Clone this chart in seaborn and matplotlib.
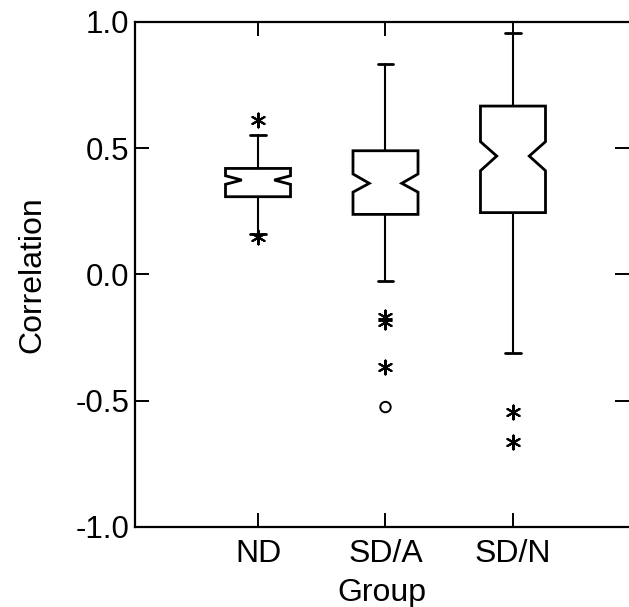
import numpy as np
import pandas as pd
import matplotlib
matplotlib.use('Agg')
import matplotlib.pyplot as plt
import seaborn as sns

# dados
grupos = ['ND', 'SD/A', 'SD/N']
medianas = [0.374, 0.361, 0.469]
q1 = [0.308, 0.238, 0.245]
q3 = [0.420, 0.490, 0.667]
bigode_inf = [0.16, -0.025, -0.31]
bigode_sup = [0.552, 0.832, 0.955]
notch_inf = [0.357, 0.326, 0.411]
notch_sup = [0.391, 0.398, 0.526]

# outliers (asteriscos) e outliers extremos (círculos)
out_grupo = ['ND', 'ND', 'SD/A', 'SD/A', 'SD/A', 'SD/N', 'SD/N']
out_valor = [0.61, 0.15, -0.17, -0.19, -0.365, -0.545, -0.665]
ext_grupo = ['SD/A']
ext_valor = [-0.525]

sns.set_theme(style='ticks')
plt.rcParams['font.family'] = ['Liberation Sans', 'DejaVu Sans']
plt.rcParams['text.color'] = 'black'
plt.rcParams['axes.labelcolor'] = 'black'

fig = plt.figure(figsize=(6.29, 6.07), dpi=100)
ax = fig.add_axes([0.2146, 0.1318, 0.7854, 0.832])

stats = []
for i, g in enumerate(grupos):
    stats.append(dict(label=g, med=medianas[i], q1=q1[i], q3=q3[i],
                      whislo=bigode_inf[i], whishi=bigode_sup[i],
                      cilo=notch_inf[i], cihi=notch_sup[i], fliers=[]))

ax.bxp(stats, positions=[0, 1, 2], widths=0.51, capwidths=0.12,
       shownotches=True, showfliers=False, patch_artist=True,
       boxprops=dict(facecolor='white', edgecolor='black', linewidth=2.0),
       whiskerprops=dict(color='black', linewidth=1.5),
       capprops=dict(color='black', linewidth=2.0),
       medianprops=dict(linewidth=0))

df_out = pd.DataFrame({'grupo': out_grupo, 'valor': out_valor})
df_ext = pd.DataFrame({'grupo': ext_grupo, 'valor': ext_valor})

sns.stripplot(data=df_out, x='grupo', y='valor', order=grupos, jitter=False,
              marker=(6, 2, 0), s=10, color='black', edgecolor='black',
              linewidth=1.5, ax=ax, zorder=5)
sns.stripplot(data=df_ext, x='grupo', y='valor', order=grupos, jitter=False,
              marker='o', s=7.5, facecolor='none', edgecolor='black',
              linewidth=1.4, ax=ax, zorder=5)

ax.set_xlim(-0.965, 2.91)
ax.set_ylim(-1.0, 1.0)
ax.set_yticks([-1.0, -0.5, 0.0, 0.5, 1.0])
ax.set_yticklabels(['-1.0', '-0.5', '0.0', '0.5', '1.0'])
ax.set_xticks([0, 1, 2])
ax.set_xticklabels(grupos)

ax.tick_params(axis='both', direction='in', length=10, width=1.4,
               top=True, right=True, colors='black')
ax.tick_params(axis='y', labelsize=22.5, pad=4)
ax.tick_params(axis='x', labelsize=23, pad=9)
for s in ['left', 'top', 'bottom']:
    ax.spines[s].set_linewidth(1.6)
    ax.spines[s].set_color('black')
ax.spines['right'].set_visible(False)

ax.set_xlabel('Group', fontsize=23, labelpad=6)
ax.set_ylabel('Correlation', fontsize=23, labelpad=20)

plt.savefig('out.png', dpi=100, facecolor='white')
plt.close()
